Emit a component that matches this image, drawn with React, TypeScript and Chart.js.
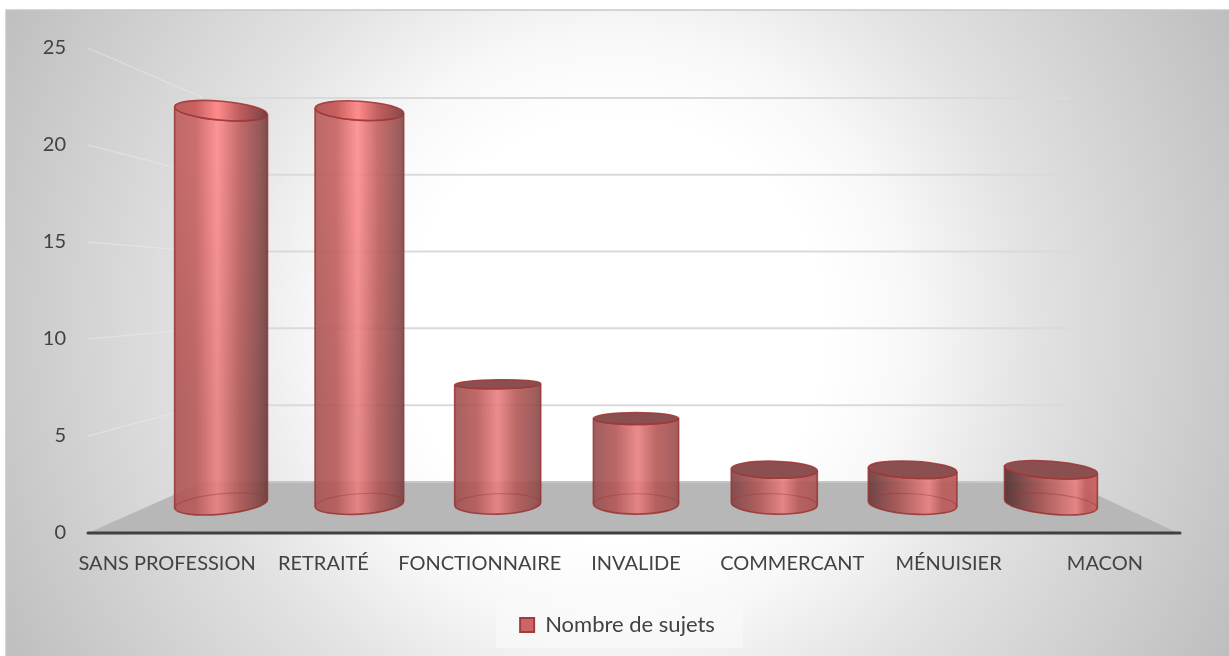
import React, { useEffect, useRef } from "react";
import { Chart, registerables } from "chart.js";

Chart.register(...registerables);

const categories = ["SANS PROFESSION", "RETRAITÉ", "FONCTIONNAIRE", "INVALIDE", "COMMERCANT", "MÉNUISIER", "MACON"];
const subjects = [23, 23, 7, 5, 2, 2, 2];
const seriesName = "Nombre de sujets";
const yTicks = [0, 5, 10, 15, 20, 25];

const FONT = "Lato";
const TEXT = "#424242";

type RGB = number[];
const mix = (a: RGB, b: RGB, t: number): RGB => a.map((v, i) => v + (b[i] - v) * t);
const css = (c: RGB) => `rgb(${c.map(Math.round).join(",")})`;

// Oblique projection of the 3D box: back wall, and the plane the cylinders stand on.
const VANISH_X = 636;
const HORIZON_Y = 300;
const FLOOR_RISE = 51;
const WALL_SHRINK = 0.792;
const BACK_LEFT = 203;
const BACK_RIGHT = 1070;
const BAR_DEPTH = 0.57;
const X_SHRINK = 0.885;
const LEGEND_SHIFT = 26;

const backY = (y: number, bottom: number) => bottom - FLOOR_RISE + (y - bottom) * WALL_SHRINK;
const midY = (y: number, bottom: number) => y + BAR_DEPTH * (backY(y, bottom) - y);

function drawCylinder(ctx: CanvasRenderingContext2D, cx: number, w: number, yTop: number, yBase: number) {
  const rx = w / 2;
  const ryTop = Math.max(4.5, Math.abs(yTop - HORIZON_Y) * 0.05);
  const ryBase = Math.abs(yBase - HORIZON_Y) * 0.05;
  const tilt = (y: number) => 1.1e-6 * (cx - VANISH_X) * (y - HORIZON_Y);
  const aTop = tilt(yTop);
  const aBase = tilt(yBase);

  const t = (cx - VANISH_X) / 415;
  const neutral: RGB = [165, 85, 85];
  const left = t < 0 ? mix(neutral, [190, 92, 92], -t) : mix(neutral, [84, 50, 50], t);
  const right = t < 0 ? mix(neutral, [112, 62, 62], -t) : mix(neutral, [222, 100, 100], t);
  const peak = 0.52 + Math.max(0, cx - VANISH_X) * 0.0006 + Math.min(0, cx - VANISH_X) * 0.00015;
  const hi: RGB = [255, 140, 140];
  const body: RGB = [205, 98, 98];

  const bodyGradient = () => {
    const g = ctx.createLinearGradient(cx - rx, 0, cx + rx, 0);
    g.addColorStop(0, css(left));
    g.addColorStop(peak * 0.5, css(mix(left, body, 0.8)));
    g.addColorStop(peak, css(hi));
    g.addColorStop(peak + (1 - peak) * 0.45, css(mix(body, right, 0.15)));
    g.addColorStop(peak + (1 - peak) * 0.85, css(mix(body, right, 0.7)));
    g.addColorStop(1, css(right));
    return g;
  };

  const bodyPath = () => {
    ctx.beginPath();
    ctx.moveTo(cx - rx * Math.cos(aTop), yTop - rx * Math.sin(aTop));
    ctx.lineTo(cx - rx * Math.cos(aBase), yBase - rx * Math.sin(aBase));
    ctx.ellipse(cx, yBase, rx, ryBase, aBase, Math.PI, 0, true);
    ctx.lineTo(cx + rx * Math.cos(aTop), yTop + rx * Math.sin(aTop));
    ctx.ellipse(cx, yTop, rx, ryTop, aTop, 0, Math.PI, false);
    ctx.closePath();
  };

  ctx.save();
  ctx.globalAlpha = 0.9;
  bodyPath();
  ctx.fillStyle = bodyGradient();
  ctx.fill();
  ctx.globalAlpha = 1;

  // Light falls off toward the floor
  const shade = ctx.createLinearGradient(0, 150, 0, 420);
  shade.addColorStop(0, "rgba(0,0,0,0)");
  shade.addColorStop(1, "rgba(0,0,0,0.08)");
  bodyPath();
  ctx.fillStyle = shade;
  ctx.fill();

  // Far rim of the base, seen through the body
  ctx.beginPath();
  ctx.ellipse(cx, yBase, rx, ryBase, aBase, Math.PI, 0, false);
  ctx.strokeStyle = "rgba(160,50,50,0.4)";
  ctx.lineWidth = 1.2;
  ctx.stroke();

  bodyPath();
  ctx.strokeStyle = "rgba(150,50,50,0.85)";
  ctx.lineWidth = 1.6;
  ctx.stroke();

  // Top face: dark when seen from above, body-coloured when above eye level
  ctx.beginPath();
  ctx.ellipse(cx, yTop, rx, ryTop, aTop, 0, Math.PI * 2);
  ctx.fillStyle = yTop > HORIZON_Y ? "#8c4f4f" : bodyGradient();
  ctx.fill();
  ctx.strokeStyle = "rgba(160,56,56,0.9)";
  ctx.lineWidth = 1.6;
  ctx.stroke();
  ctx.restore();
}

const scenePlugin = {
  id: "scene3d",
  afterLayout(chart: any) {
    // Centre the legend on the card rather than on the plot's side of the canvas
    const legend = chart.legend;
    if (!legend) return;
    legend.left += LEGEND_SHIFT;
    legend.right += LEGEND_SHIFT;
    legend.legendHitBoxes?.forEach((box: any) => {
      box.left += LEGEND_SHIFT;
    });
  },
  beforeDraw(chart: any) {
    const { ctx, width, height } = chart;
    const cardX = 6;
    const cardY = 10;
    ctx.save();
    const g = ctx.createRadialGradient(615, 330, 0, 615, 330, 700);
    g.addColorStop(0, "#ffffff");
    g.addColorStop(0.3, "#ffffff");
    g.addColorStop(0.42, "#f8f8f8");
    g.addColorStop(0.6, "#e2e2e2");
    g.addColorStop(1, "#bdbdbd");
    ctx.fillStyle = g;
    ctx.fillRect(cardX, cardY, width - cardX, height - cardY);
    ctx.strokeStyle = "#c8c8c8";
    ctx.lineWidth = 1.5;
    ctx.strokeRect(cardX, cardY, width - cardX + 4, height - cardY + 4);

    const box = chart.legend?.legendHitBoxes?.[0];
    if (box) {
      ctx.fillStyle = "rgba(250,250,250,0.6)";
      ctx.fillRect(box.left - 24, box.top - 12, box.width + 52, box.height + 24);
    }
    ctx.restore();
  },
  beforeDatasetsDraw(chart: any) {
    const { ctx, chartArea, scales } = chart;
    const bottom = chartArea.bottom;
    const frontLeft = chartArea.left - 1;
    ctx.save();

    // Floor
    ctx.beginPath();
    ctx.moveTo(frontLeft, bottom);
    ctx.lineTo(BACK_LEFT, bottom - FLOOR_RISE);
    ctx.lineTo(BACK_RIGHT, bottom - FLOOR_RISE);
    ctx.lineTo(chartArea.right - 5, bottom);
    ctx.closePath();
    ctx.fillStyle = "#b7b7b7";
    ctx.fill();

    // Grid on the left wall and the back wall
    scales.y.ticks.forEach((tick: any) => {
      const yf = scales.y.getPixelForValue(tick.value);
      const yb = backY(yf, bottom);
      if (tick.value > 0) {
        ctx.beginPath();
        ctx.moveTo(frontLeft, yf);
        ctx.lineTo(BACK_LEFT, yb);
        ctx.strokeStyle = "rgba(235,235,235,0.5)";
        ctx.lineWidth = 1.3;
        ctx.stroke();
        ctx.beginPath();
        ctx.moveTo(BACK_LEFT, yb);
        ctx.lineTo(BACK_RIGHT, yb);
        ctx.strokeStyle = "#dadada";
        ctx.lineWidth = 2;
        ctx.stroke();
      } else {
        ctx.beginPath();
        ctx.moveTo(BACK_LEFT, yb);
        ctx.lineTo(BACK_RIGHT, yb);
        ctx.strokeStyle = "#c6c6c6";
        ctx.lineWidth = 2;
        ctx.stroke();
      }
    });
    ctx.restore();
  },
  afterDatasetsDraw(chart: any) {
    const { ctx, chartArea } = chart;
    const bottom = chartArea.bottom;
    chart.getDatasetMeta(0).data.forEach((bar: any) => {
      const cx = VANISH_X + (bar.x - VANISH_X) * X_SHRINK;
      const d = cx - VANISH_X;
      const w = bar.width * (1 + 5.5e-7 * d * d);
      drawCylinder(ctx, cx, w, midY(bar.y, bottom), midY(bar.base, bottom));
    });

    // Front edge of the floor
    ctx.save();
    ctx.beginPath();
    ctx.moveTo(chartArea.left - 1, bottom);
    ctx.lineTo(chartArea.right - 3, bottom);
    ctx.strokeStyle = "#404040";
    ctx.lineWidth = 3;
    ctx.lineCap = "round";
    ctx.stroke();
    ctx.restore();
  },
};

export default function App() {
  const ref = useRef<HTMLCanvasElement>(null);

  useEffect(() => {
    document.body.style.margin = "0";
    document.body.style.background = "#ffffff";
    const chart = new Chart(ref.current!, {
      type: "bar",
      data: {
        labels: categories,
        datasets: [
          {
            label: seriesName,
            data: subjects,
            backgroundColor: "rgba(0,0,0,0)",
            borderWidth: 0,
            barPercentage: 0.545,
            categoryPercentage: 1,
          },
        ],
      },
      plugins: [scenePlugin],
      options: {
        responsive: false,
        animation: false,
        devicePixelRatio: 1,
        layout: { padding: { left: 0, right: 46, top: 48, bottom: 10 } },
        plugins: {
          tooltip: { enabled: false },
          title: { display: false },
          legend: {
            position: "bottom",
            labels: {
              boxWidth: 14,
              boxHeight: 14,
              padding: 10,
              color: TEXT,
              font: { family: FONT, size: 22 },
              generateLabels: () => [
                {
                  text: seriesName,
                  fillStyle: "#cc6666",
                  strokeStyle: "#a03c3c",
                  lineWidth: 2,
                  fontColor: TEXT,
                  datasetIndex: 0,
                },
              ],
            },
          },
        },
        scales: {
          x: {
            grid: { display: false, drawTicks: false },
            border: { display: false },
            ticks: {
              autoSkip: false,
              maxRotation: 0,
              minRotation: 0,
              padding: 19,
              color: TEXT,
              font: { family: FONT, size: 20 },
            },
            afterFit(scale: any) {
              const legendH = scale.chart.legend?.height ?? 42;
              scale.height = 656 - 533 - legendH - 10;
            },
          },
          y: {
            min: 0,
            max: 25,
            grid: { display: false, drawTicks: false },
            border: { display: false },
            afterBuildTicks(scale: any) {
              scale.ticks = yTicks.map((value) => ({ value }));
            },
            ticks: {
              padding: 23,
              color: TEXT,
              font: { family: FONT, size: 20 },
            },
            afterFit(scale: any) {
              scale.width = 89;
            },
          },
        },
      },
    } as any);
    return () => chart.destroy();
  }, []);

  return <canvas ref={ref} width={1229} height={656} style={{ display: "block" }} />;
}
